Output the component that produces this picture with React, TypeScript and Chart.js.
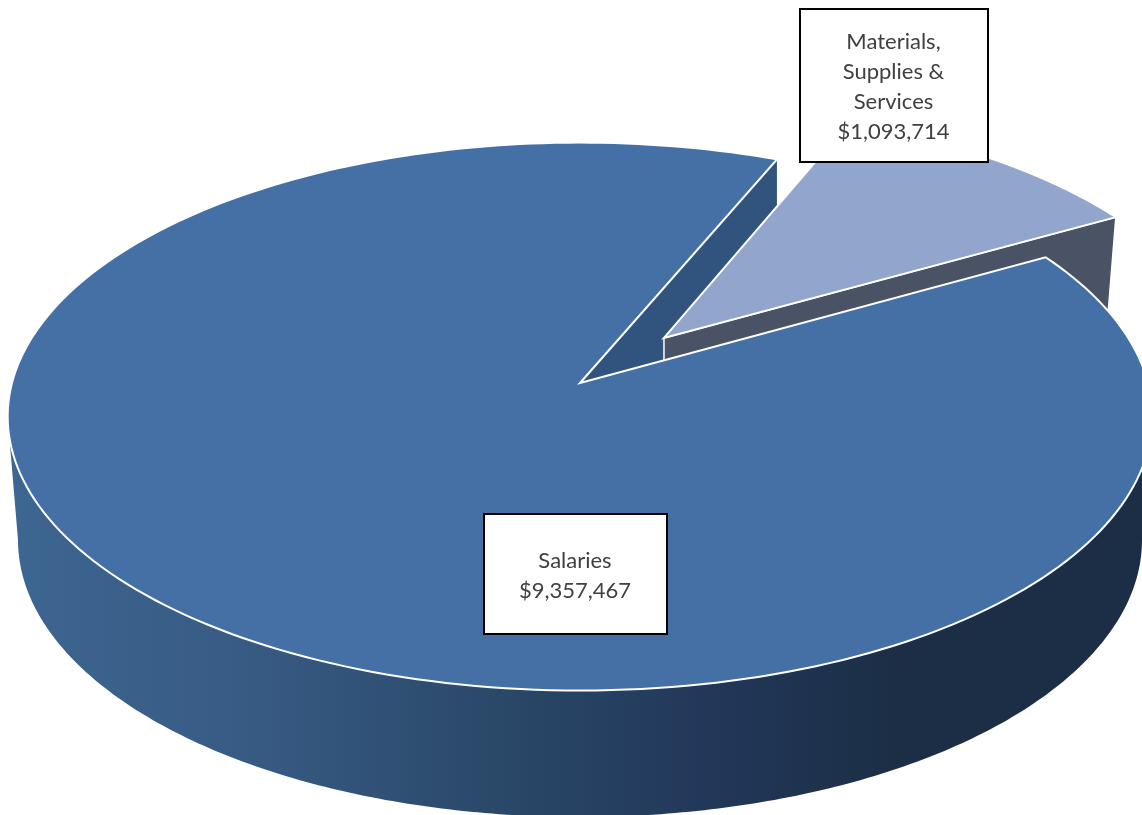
import React, { useEffect, useRef } from "react";
import { ArcElement, Chart, PieController, registerables } from "chart.js";

// Budget split, drawn in the order the slices are layered.
const categories = ["Materials, Supplies & Services", "Salaries"];
const amounts = [1093714, 9357467];
const categoryLines = [["Materials,", "Supplies &", "Services"], ["Salaries"]];
const startAngleDeg = 22.7;
const explodedFlags = [1, 0];

const TOP_COLORS = ["#92a6cd", "#4570a6"];
const EXPLODE = 0.2276;
const STRETCH_X = 1.485;
const STRETCH_Y = 0.7055;
const KEYSTONE = -0.1225;

// Tilted disc: unit-circle coordinates to canvas pixels, with the near edge enlarged.
function project(el: any, u: number, v: number): [number, number] {
  const w = 1 + KEYSTONE * v;
  return [
    el.x + (STRETCH_X * el.outerRadius * u) / w,
    el.y + (STRETCH_Y * el.outerRadius * v) / w,
  ];
}

function explodeShift(el: any): [number, number] {
  const mid = (el.startAngle + el.endAngle) / 2;
  const amount = (el.options.offset || 0) * EXPLODE;
  return [amount * Math.cos(mid), amount * Math.sin(mid)];
}

function rimPoints(el: any, steps = 240): [number, number][] {
  const [du, dv] = explodeShift(el);
  const pts: [number, number][] = [];
  for (let i = 0; i <= steps; i++) {
    const a = el.startAngle + ((el.endAngle - el.startAngle) * i) / steps;
    pts.push(project(el, du + Math.cos(a), dv + Math.sin(a)));
  }
  return pts;
}

function tracePolygon(ctx: CanvasRenderingContext2D, pts: [number, number][]) {
  ctx.beginPath();
  pts.forEach(([x, y], i) => (i ? ctx.lineTo(x, y) : ctx.moveTo(x, y)));
  ctx.closePath();
}

// Outer wall of the main slice, front half only: its bottom rim is a lower ellipse.
function drawRoundWall(ctx: CanvasRenderingContext2D, el: any) {
  const steps = 240;
  const upper: [number, number][] = [];
  const floor: [number, number][] = [];
  for (let i = 0; i <= steps; i++) {
    const t = i / steps;
    const rimAngle = 0.2 + (Math.PI - 0.4) * t;
    upper.push(project(el, Math.cos(rimAngle), Math.sin(rimAngle)));
    const floorAngle = Math.PI * (1 - t);
    floor.push([el.x + 562 * Math.cos(floorAngle), el.y + 157 + 277 * Math.sin(floorAngle)]);
  }
  const shade = ctx.createLinearGradient(10, 0, 900, 0);
  shade.addColorStop(0, "#3d6691");
  shade.addColorStop(0.28, "#375a83");
  shade.addColorStop(0.55, "#2a4868");
  shade.addColorStop(0.78, "#22385a");
  shade.addColorStop(1, "#1b2e45");
  ctx.fillStyle = shade;
  tracePolygon(ctx, [...upper, ...floor]);
  ctx.fill();
}

// Straight wall of the pulled-out slice, mostly tucked behind the main disc.
function drawFlatWall(ctx: CanvasRenderingContext2D, el: any) {
  const [du, dv] = explodeShift(el);
  const apex = project(el, du, dv);
  const corner = project(el, du + Math.cos(el.endAngle), dv + Math.sin(el.endAngle));
  tracePolygon(ctx, [
    apex,
    corner,
    [corner[0] - 10, corner[1] + 124],
    [apex[0], apex[1] + 100],
  ]);
  ctx.fillStyle = "#4a5266";
  ctx.fill();
  ctx.strokeStyle = "#ffffff";
  ctx.lineWidth = 1.5;
  ctx.stroke();
}

class Slice3D extends ArcElement {
  static id = "slice3d";
  static defaults = ArcElement.defaults;
  static defaultRoutes = ArcElement.defaultRoutes;

  draw(ctx: CanvasRenderingContext2D) {
    const el: any = this;
    ctx.save();
    if (el.options.offset) drawFlatWall(ctx, el);
    else drawRoundWall(ctx, el);
    const [du, dv] = explodeShift(el);
    tracePolygon(ctx, [project(el, du, dv), ...rimPoints(el)]);
    ctx.fillStyle = el.options.backgroundColor;
    ctx.fill();
    ctx.strokeStyle = "#ffffff";
    ctx.lineWidth = 2;
    ctx.lineJoin = "miter";
    ctx.stroke();
    ctx.restore();
  }
}

class Pie3DController extends PieController {
  static id = "pie3d";
  static defaults = { ...PieController.defaults, dataElementType: "slice3d" };
  static overrides = PieController.overrides;
}

Chart.register(...registerables, Slice3D, Pie3DController);

// Cut face of the main slice, visible through the gap left by the pulled-out slice.
const cutFacePlugin = {
  id: "cutFace",
  beforeDatasetsDraw(chart: any) {
    const el = chart.getDatasetMeta(0).data[1];
    const { ctx } = chart;
    const rim = project(el, Math.cos(el.endAngle), Math.sin(el.endAngle));
    ctx.save();
    tracePolygon(ctx, [
      [el.x, el.y],
      rim,
      [rim[0], rim[1] + 48],
      [el.x, el.y + 102],
    ]);
    ctx.fillStyle = "#31547e";
    ctx.fill();
    ctx.restore();
  },
};

const labelBoxes = [
  { left: 800, top: 9, right: 988, bottom: 162 },
  { left: 484, top: 514, right: 667, bottom: 634 },
];

// Boxed category and amount captions on top of the pie.
const calloutPlugin = {
  id: "callouts",
  afterDatasetsDraw(chart: any) {
    const { ctx } = chart;
    ctx.save();
    labelBoxes.forEach((box, i) => {
      const w = box.right - box.left;
      const h = box.bottom - box.top;
      ctx.fillStyle = "#ffffff";
      ctx.fillRect(box.left, box.top, w, h);
      ctx.strokeStyle = "#000000";
      ctx.lineWidth = 2;
      ctx.strokeRect(box.left, box.top, w, h);
      const lines = [...categoryLines[i], "$" + amounts[i].toLocaleString("en-US")];
      const lineHeight = 30;
      const cx = box.left + w / 2 - 0.5;
      const firstY = box.top + h / 2 - ((lines.length - 1) * lineHeight) / 2 + 1.5;
      ctx.fillStyle = "#404040";
      ctx.font = "22px Lato";
      ctx.textAlign = "center";
      ctx.textBaseline = "middle";
      lines.forEach((line, n) => ctx.fillText(line, cx, firstY + n * lineHeight));
    });
    ctx.restore();
  },
};

export default function App() {
  const canvasRef = useRef<HTMLCanvasElement>(null);

  useEffect(() => {
    const chart = new Chart(canvasRef.current as HTMLCanvasElement, {
      type: "pie3d" as any,
      data: {
        labels: categories,
        datasets: [
          {
            data: amounts,
            backgroundColor: TOP_COLORS,
            offset: explodedFlags,
            hoverOffset: 0,
            borderWidth: 0,
            rotation: startAngleDeg,
            clip: false,
          } as any,
        ],
      },
      options: {
        animation: false,
        responsive: false,
        maintainAspectRatio: false,
        events: [],
        layout: { padding: { left: 18, bottom: 49 } },
        plugins: { legend: { display: false }, tooltip: { enabled: false } },
      },
      plugins: [cutFacePlugin, calloutPlugin],
    });
    return () => chart.destroy();
  }, []);

  return (
    <canvas
      ref={canvasRef}
      width={1142}
      height={815}
      style={{ position: "fixed", left: 0, top: 0, display: "block" }}
    />
  );
}
